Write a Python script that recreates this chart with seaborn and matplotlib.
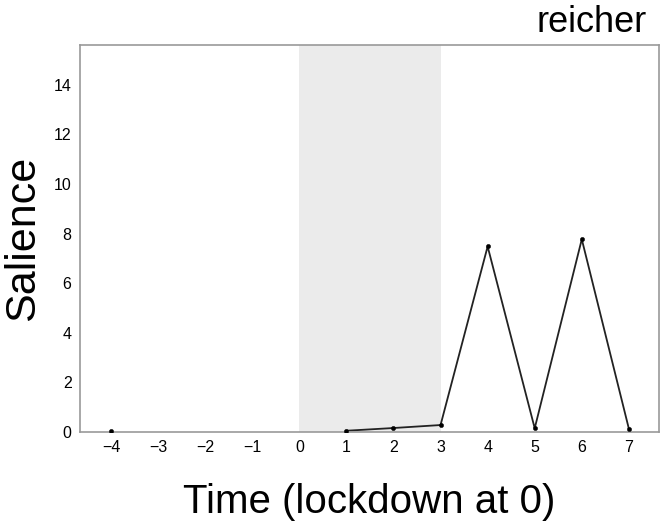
import matplotlib
matplotlib.use("Agg")
import matplotlib.pyplot as plt
import seaborn as sns
import pandas as pd

# datos
tiempo = [-4, 1, 2, 3, 4, 5, 6, 7]
saliencia = [0.05, 0.05, 0.16, 0.28, 7.48, 0.15, 7.77, 0.13]
ticks_x = [-4, -3, -2, -1, 0, 1, 2, 3, 4, 5, 6, 7]
ticks_y = [0, 2, 4, 6, 8, 10, 12, 14]
zona_lockdown = [0, 3]

df = pd.DataFrame({"Tiempo": tiempo, "Salience": saliencia})
df_post = df[df["Tiempo"] >= 1]

sns.set_style("white")
plt.rcParams["font.family"] = ["Liberation Sans", "DejaVu Sans"]
plt.rcParams["text.color"] = "black"
plt.rcParams["axes.labelcolor"] = "black"
plt.rcParams["xtick.color"] = "black"
plt.rcParams["ytick.color"] = "black"

fig = plt.figure(figsize=(6.66, 5.24), dpi=100)
ax = fig.add_axes([0.120, 0.1756, 0.8695, 0.7384])

ax.axvspan(zona_lockdown[0], zona_lockdown[1], color="#ebebeb", lw=0, zorder=0)
sns.lineplot(x="Tiempo", y="Salience", data=df_post, color="#222222", lw=1.3, ax=ax)
sns.scatterplot(x="Tiempo", y="Salience", data=df, color="black", s=10, edgecolor=None, ax=ax, zorder=3)

ax.set_xlim(-4.66, 7.64)
ax.set_ylim(0, 15.6)
ax.set_xticks(ticks_x)
ax.set_xticklabels(["\u2212" + str(-t) if t < 0 else str(t) for t in ticks_x])
ax.set_yticks(ticks_y)
ax.tick_params(length=0, labelsize=11.5, pad=6)
for s in ax.spines.values():
    s.set_color("#999999")
    s.set_linewidth(1.2)

ax.set_xlabel("Time (lockdown at 0)", fontsize=29, labelpad=20)
ax.set_ylabel("Salience", fontsize=31, labelpad=8)
fig.text(0.971, 0.939, "reicher", fontsize=26, ha="right", va="baseline")

fig.savefig("out.png", dpi=100)
